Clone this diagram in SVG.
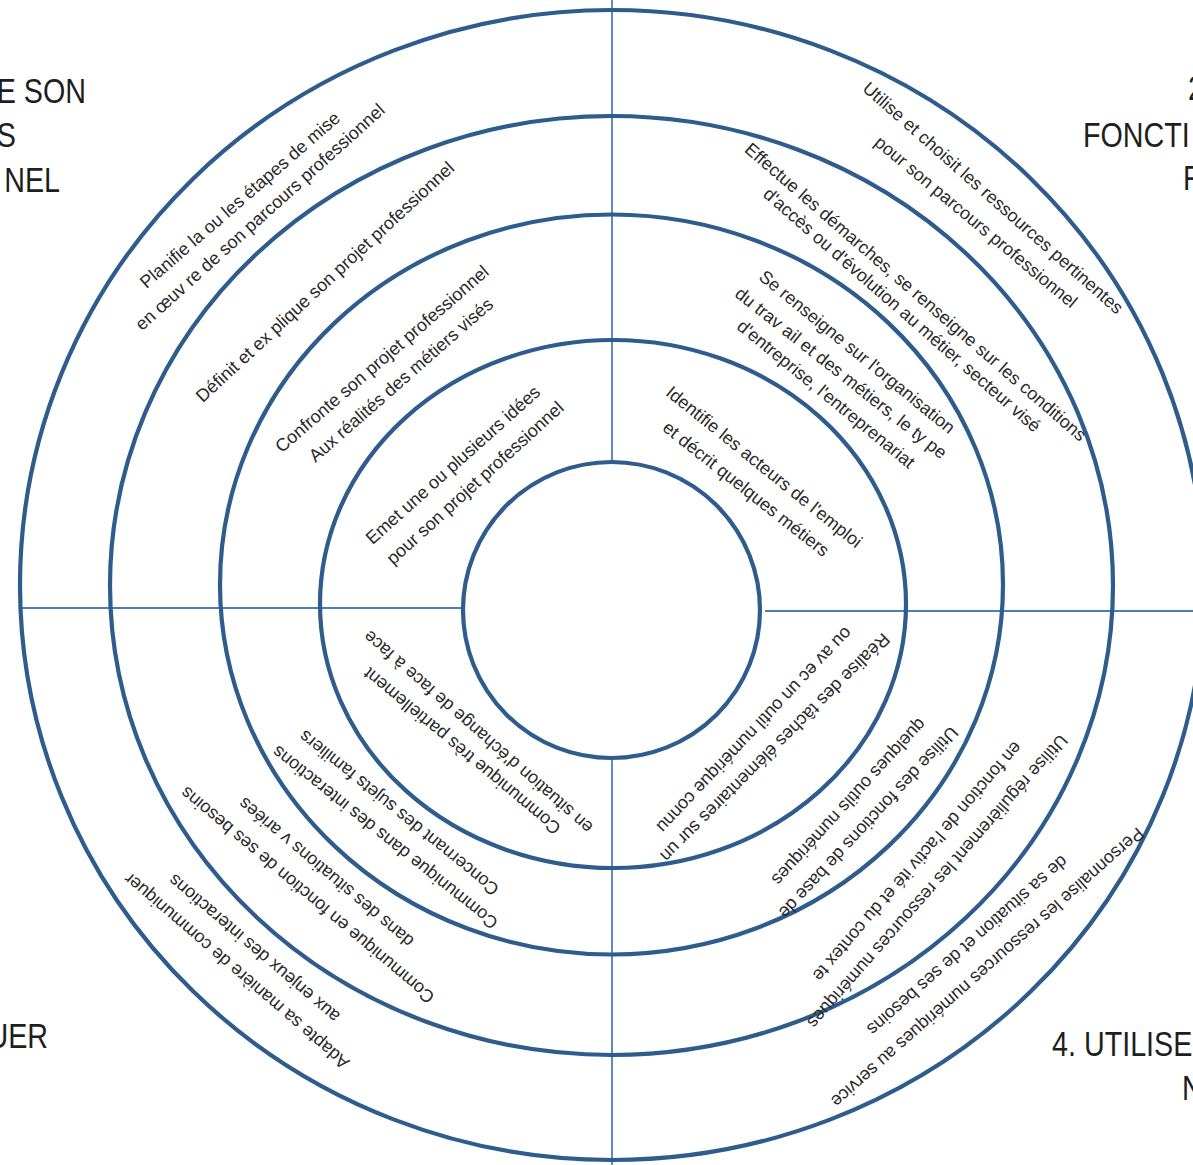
<svg xmlns="http://www.w3.org/2000/svg" width="1193" height="1165" viewBox="0 0 1193 1165">
<style>
.ring{fill:none;stroke:#2E5C8C;stroke-width:4.2}
.axis{stroke:#4A7CC2;stroke-width:1.8;fill:none}
.t{font-family:"Liberation Sans",Arial,sans-serif;font-size:18px;fill:#2a2a2a;text-anchor:middle;dominant-baseline:central}
.c{font-family:"Liberation Sans Narrow","Liberation Sans",Arial,sans-serif;font-size:35px;fill:#1e1e1e}
</style>
<rect width="1193" height="1165" fill="#ffffff"/>
<g id="connectors">
<line class="axis" x1="612" y1="0" x2="612" y2="462"/>
<line class="axis" x1="612" y1="760" x2="612" y2="1165"/>
<line class="axis" x1="20" y1="608" x2="463" y2="608"/>
<line class="axis" x1="765" y1="611" x2="1193" y2="611"/>
</g>
<g id="rings">
<ellipse id="ring1" class="ring" cx="612" cy="585" rx="592" ry="575"/>
<ellipse id="ring2" class="ring" cx="611.5" cy="585.5" rx="501.5" ry="469.5"/>
<ellipse id="ring3" class="ring" cx="611.5" cy="584.5" rx="391.5" ry="370"/>
<ellipse id="ring4" class="ring" cx="613" cy="604" rx="293" ry="264"/>
<ellipse id="ring5" class="ring" cx="611.5" cy="610" rx="148.5" ry="148"/>
</g>
<g id="corner-labels">
<g id="label-1"><text class="c" transform="translate(86,103) scale(0.82,1)" text-anchor="end">E SON</text><text class="c" transform="translate(16,147) scale(0.82,1)" text-anchor="end">S</text><text class="c" transform="translate(60,192) scale(0.82,1)" text-anchor="end">NEL</text></g>
<g id="label-2"><text class="c" transform="translate(1188,100) scale(0.82,1)">2</text><text class="c" transform="translate(1083,147) scale(0.82,1)">FONCTI</text><text class="c" transform="translate(1183,190) scale(0.82,1)">F</text></g>
<g id="label-3"><text class="c" transform="translate(48,1048) scale(0.82,1)" text-anchor="end">UER</text></g>
<g id="label-4"><text class="c" transform="translate(1052,1056) scale(0.82,1)">4. UTILISE</text><text class="c" transform="translate(1182,1100) scale(0.82,1)">N</text></g>
</g>
<g id="q1-ring1"><text class="t" transform="translate(240,200) rotate(-41)">Planifie la ou les étapes de mise</text><text class="t" transform="translate(260,217) rotate(-42)">en œuv re de son parcours professionnel</text></g>
<g id="q1-ring2"><text class="t" transform="translate(325,282) rotate(-42.8)">Définit et ex plique son projet professionnel</text></g>
<g id="q1-ring3"><text class="t" transform="translate(382,359) rotate(-40.8)">Confronte son projet professionnel</text><text class="t" transform="translate(401,380) rotate(-41.3)">Aux réalités des métiers visés</text></g>
<g id="q1-ring4"><text class="t" transform="translate(453,465) rotate(-41.9)">Emet une ou plusieurs idées</text><text class="t" transform="translate(475,483) rotate(-42.3)">pour son projet professionnel</text></g>
<g id="q2-ring1"><text class="t" transform="translate(993,198) rotate(41.4)">Utilise et choisit les ressources pertinentes</text><text class="t" transform="translate(976,222) rotate(39.8)">pour son parcours professionnel</text></g>
<g id="q2-ring2"><text class="t" transform="translate(915.5,292) rotate(40.9)">Effectue les démarches, se renseigne sur les conditions</text><text class="t" transform="translate(902,310) rotate(41.1)">d'accès ou d'évolution au métier, secteur visé</text></g>
<g id="q2-ring3"><text class="t" transform="translate(857,352) rotate(39.2)">Se renseigne sur l'organisation</text><text class="t" transform="translate(841,373) rotate(38.4)">du trav ail et des métiers, le ty pe</text><text class="t" transform="translate(826,394) rotate(39.2)">d'entreprise, l'entreprenariat</text></g>
<g id="q2-ring4"><text class="t" transform="translate(764,467) rotate(38.9)">Identifie les acteurs de l'emploi</text><text class="t" transform="translate(746,489) rotate(38.3)">et décrit quelques métiers</text></g>
<g id="q3-ring4"><text class="t" transform="translate(462,751) rotate(219.7)">Communique très partiellement</text><text class="t" transform="translate(478,732) rotate(221.2)">en situation d'échange de face à face</text></g>
<g id="q3-ring3"><text class="t" transform="translate(385,837.5) rotate(218.5)">Communique dans des interactions</text><text class="t" transform="translate(399,813) rotate(219)">Concernant des sujets familiers</text></g>
<g id="q3-ring2"><text class="t" transform="translate(307.5,895) rotate(220.1)">Communique en fonction de ses besoins</text><text class="t" transform="translate(326,872.5) rotate(220)">dans des situations v ariées</text></g>
<g id="q3-ring1"><text class="t" transform="translate(236.5,971) rotate(220.7)">Adapte sa manière de communiquer</text><text class="t" transform="translate(254,948.5) rotate(220.4)">aux enjeux des interactions</text></g>
<g id="q4-ring4"><text class="t" transform="translate(775,747.5) rotate(135.1)">Réalise des tâches élémentaires sur un</text><text class="t" transform="translate(754.5,730) rotate(133.4)">ou av ec un outil numérique connu</text></g>
<g id="q4-ring3"><text class="t" transform="translate(868.5,822.5) rotate(132.8)">Utilise des fonctions de base de</text><text class="t" transform="translate(849,802) rotate(132.5)">quelques outils numériques</text></g>
<g id="q4-ring2"><text class="t" transform="translate(937.5,881.5) rotate(131.3)">Utilise régulièrement les ressources numériques</text><text class="t" transform="translate(917.5,861.5) rotate(130.8)">en fonction de l'activ ité et du contex te</text></g>
<g id="q4-ring1"><text class="t" transform="translate(987.5,967.5) rotate(138.4)">Personnalise les ressources numériques au service</text><text class="t" transform="translate(967.5,945.5) rotate(138.5)">de sa situation et de ses besoins</text></g>
</svg>
